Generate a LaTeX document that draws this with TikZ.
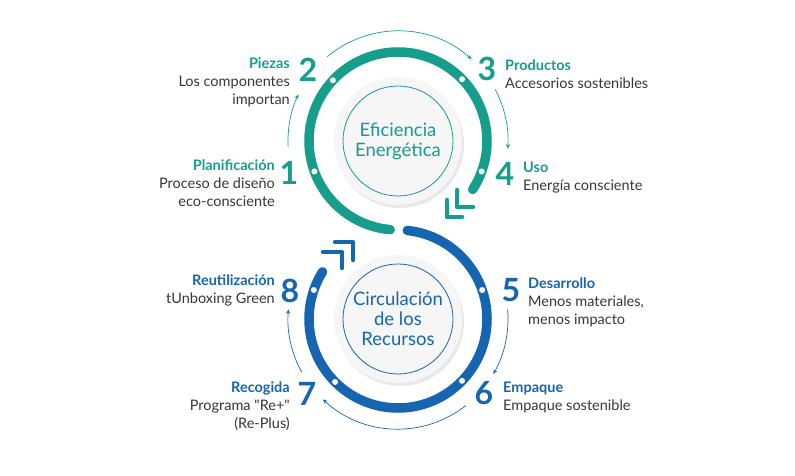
\documentclass[tikz,border=0pt]{standalone}
\usepackage{fontspec}
\setmainfont{Lato}
\usetikzlibrary{arrows.meta,shadows}
\definecolor{ecoteal}{RGB}{22,157,140}
\definecolor{ecoblue}{RGB}{21,101,176}
\definecolor{ecotext}{RGB}{55,55,55}

\begin{document}
\begin{tikzpicture}
  [x=1pt,y=1pt,
   disc/.style={circle,fill=gray!7,minimum size=128pt,drop shadow={shadow xshift=2pt,shadow yshift=-3pt,opacity=.18}},
   ring/.style={circle,draw,line width=.8pt,minimum size=110pt,inner sep=0pt,font=\fontsize{18.5}{20}\selectfont,align=center},
   band/.style={line width=9.5pt,line cap=round},
   flow/.style={line width=.7pt,-{Stealth[length=4.5pt,width=4pt]}},
   chev/.style={line width=4.5pt,line cap=round,line join=round},
   num/.style={font=\fontsize{32}{32}\selectfont\bfseries},
   lbl/.style={font=\fontsize{14.5}{18}\selectfont,text=ecotext,inner sep=0pt}]

  \useasboundingbox[fill=white] (0,0) rectangle (795,476);

  % the two circles
  \node[disc] (top) at (398,335) {};
  \node[disc] (bot) at (398,157) {};
  \node[ring,draw=ecoteal,text=ecoteal] (eff) at (top) {Eficiencia\\Energética};
  \node[ring,draw=ecoblue,text=ecoblue] (circ) at (bot) {Circulación\\de los\\Recursos};

  % thick bands
  \draw[band,ecoteal] (top) ++(-33:89) arc[start angle=-33,end angle=265,radius=89];
  \draw[band,ecoblue] (bot) ++(84:89) arc[start angle=84,end angle=-212,radius=89];

  % white dots
  \foreach \a in {200,137,44,-20}
    \fill[white] (top) ++(\a:89) circle[radius=3];
  \foreach \a in {19,-44,-135,161}
    \fill[white] (bot) ++(\a:89) circle[radius=3];

  % thin arrows
  \foreach \s/\e in {183/155,130/48,28/-4}
    \draw[flow,ecoteal] (top) ++(\s:110) arc[start angle=\s,end angle=\e,radius=110];
  \foreach \s/\e in {5/-30,-52/-133,-151/-185}
    \draw[flow,ecoblue] (bot) ++(\s:110) arc[start angle=\s,end angle=\e,radius=110];

  % chevrons
  \draw[chev,ecoteal] (457,286) -- (457,269) -- (473,269);
  \draw[chev,ecoteal] (447,276) -- (447,259) -- (462,259);
  \draw[chev,ecoblue] (335,234) -- (353,234) -- (353,216);
  \draw[chev,ecoblue] (323,224) -- (342,224) -- (342,208);

  % numbers
  \foreach \n/\x/\y/\c in {1/289/303/ecoteal,2/308/406/ecoteal,3/487/407/ecoteal,4/505/302/ecoteal,
                           5/511/186/ecoblue,6/484/83/ecoblue,7/307/82/ecoblue,8/290/185/ecoblue}
    \node[num,text=\c] (n\n) at (\x,\y) {\n};

  % labels
  \node[lbl,align=right,anchor=north east] (l1) at (275,316) {\textcolor{ecoteal}{\bfseries Planificación}\\Proceso de diseño\\eco-consciente};
  \node[lbl,align=right,anchor=north east] (l2) at (290,418) {\textcolor{ecoteal}{\bfseries Piezas}\\Los componentes\\importan};
  \node[lbl,align=left,anchor=north west] (l3) at (505,416) {\textcolor{ecoteal}{\bfseries Productos}\\Accesorios sostenibles};
  \node[lbl,align=left,anchor=north west] (l4) at (523,314) {\textcolor{ecoteal}{\bfseries Uso}\\Energía consciente};
  \node[lbl,align=left,anchor=north west] (l5) at (528,198) {\textcolor{ecoblue}{\bfseries Desarrollo}\\Menos materiales,\\menos impacto};
  \node[lbl,align=left,anchor=north west] (l6) at (503,94) {\textcolor{ecoblue}{\bfseries Empaque}\\Empaque sostenible};
  \node[lbl,align=right,anchor=north east] (l7) at (290,94) {\textcolor{ecoblue}{\bfseries Recogida}\\Programa \textquotedbl Re+\textquotedbl\\(Re-Plus)};
  \node[lbl,align=right,anchor=north east] (l8) at (275,201) {\textcolor{ecoblue}{\bfseries Reutilización}\\tUnboxing Green};
\end{tikzpicture}
\end{document}
